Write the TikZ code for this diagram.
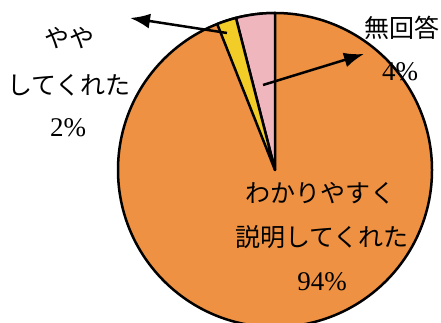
\documentclass[tikz,border=0pt]{standalone}
\usepackage{fontspec}
\setmainfont{Liberation Serif}
\newfontfamily\jpfont{Noto Sans CJK JP}
\usetikzlibrary{arrows.meta}

\definecolor{sliceorange}{RGB}{238,145,66}
\definecolor{slicepink}{RGB}{240,182,190}
\definecolor{sliceyellow}{RGB}{242,205,40}

\begin{document}
\begin{tikzpicture}[x=1pt,y=1pt,
  slice/.style={draw=black,line width=2.5pt,line join=round},
  pointer/.style={line width=2.5pt,-{Latex[length=20pt,width=15pt]}},
  jp/.style={font=\jpfont\fontsize{25}{30}\selectfont,inner sep=0pt},
  pct/.style={font=\fontsize{27}{30}\selectfont,inner sep=0pt}]
\useasboundingbox (0,0) rectangle (441,323);
\begin{scope}
\clip (0,0) rectangle (441,323);
\coordinate (center) at (275,153);
% pie slices
\draw[slice,fill=sliceorange] (center) circle (157);
\draw[slice,fill=slicepink] (center) -- ++(90:157) arc (90:104.4:157) -- cycle;
\draw[slice,fill=sliceyellow] (center) -- ++(104.4:157) arc (104.4:111.6:157) -- cycle;
\end{scope}
% pointers
\coordinate (pinkfoot) at (263,238);
\coordinate (pinkhead) at (364,269);
\coordinate (yellowfoot) at (227,290);
\coordinate (yellowhead) at (130,305);
\draw[pointer] (pinkfoot) -- (pinkhead);
\draw[pointer] (yellowfoot) -- (yellowhead);
% labels
\node[jp] (noanswer) at (402,295) {無回答};
\node[pct] (noanswerpct) at (400,251) {4\%};
\node[jp] (somewhat) at (69,285) {やや};
\node[jp] (somewhat2) at (69,238) {してくれた};
\node[pct] (somewhatpct) at (68,195) {2\%};
\node[jp] (clear) at (320,130) {わかりやすく};
\node[jp] (clear2) at (322,86) {説明してくれた};
\node[pct] (clearpct) at (322,41) {94\%};
\end{tikzpicture}
\end{document}
